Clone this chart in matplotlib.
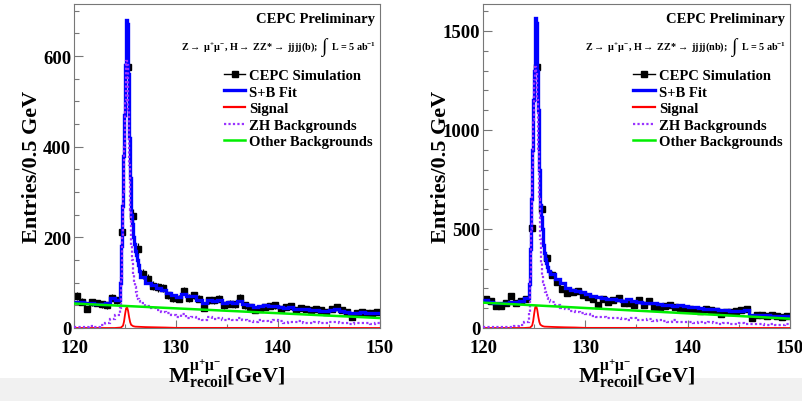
import numpy as np
import matplotlib
matplotlib.use("Agg")
import matplotlib.pyplot as plt
from matplotlib.lines import Line2D
from matplotlib.patches import Rectangle

plt.rcParams["font.family"] = ["Liberation Serif", "DejaVu Serif"]
plt.rcParams["font.weight"] = "bold"
plt.rcParams["axes.labelweight"] = "bold"
plt.rcParams["mathtext.fontset"] = "custom"
plt.rcParams["mathtext.rm"] = "Liberation Serif:bold"
plt.rcParams["mathtext.it"] = "Liberation Serif:bold"
plt.rcParams["mathtext.bf"] = "Liberation Serif:bold"
plt.rcParams["mathtext.default"] = "rm"

# ---- binning (0.5 GeV data bins, fit templates finer near the peak) ----
BIN_CENTERS = np.arange(120.25, 150.0, 0.5)
FIT_EDGES = np.concatenate([np.linspace(120, 124.5, 10)[:-1],
                            np.linspace(124.5, 126.5, 21)[:-1],
                            np.linspace(126.5, 150, 48)])
SIG_X = [120, 124.0, 124.6, 124.8, 124.9, 125.0, 125.1, 125.2, 125.3, 125.4,
         125.5, 125.6, 125.8, 126.0, 126.5, 127.0, 128.0, 129.0, 130.0, 150]
OTHER_X = [120, 150]

# ---- jjjj(b) channel ----
data_b = [71, 58, 43, 57, 55, 52, 50, 67, 61, 212,
          575, 247, 174, 120, 109, 93, 90, 88, 72, 66,
          65, 81, 66, 72, 65, 44, 61, 61, 65, 50,
          54, 52, 66, 50, 46, 39, 43, 46, 49, 50,
          43, 46, 48, 39, 44, 41, 39, 43, 39, 35,
          43, 46, 39, 35, 24, 32, 35, 32, 32, 35]
fit_b = ([58, 57, 55, 56, 54, 53, 56, 66, 62]
         + [100, 180, 270, 380, 470, 580, 680, 670, 560, 420,
            330, 250, 230, 200, 185, 170, 160, 150, 140, 125]
         + [112, 100, 95, 88, 84, 78, 72, 68, 74, 70,
            70, 62, 56, 62, 60, 62, 56, 58, 55, 60,
            54, 50, 46, 48, 50, 49, 48, 46, 45, 46,
            42, 43, 41, 40, 40, 38, 38, 40, 42, 38,
            36, 32, 34, 35, 33, 32, 34])
zh_b = ([2, 3, 2, 4, 3, 6, 12, 20, 28]
        + [45, 110, 200, 300, 400, 500, 590, 580, 480, 360,
           260, 180, 150, 120, 100, 90, 80, 70, 65, 60]
        + [55, 48, 45, 40, 35, 32, 28, 25, 30, 22,
           25, 20, 18, 24, 20, 22, 18, 20, 17, 22,
           18, 15, 14, 18, 16, 14, 17, 15, 12, 14,
           13, 15, 12, 11, 14, 12, 10, 13, 14, 11,
           12, 9, 10, 12, 10, 9, 11])
sig_b = [0, 0, 1, 5, 14, 30, 43, 46, 38, 24, 13, 7, 4, 3, 2.5, 2, 1.5, 1, 0.3, 0]
other_b = [54, 22]

# ---- jjjj(nb) channel ----
data_nb = [148, 135, 111, 111, 128, 162, 128, 136, 148, 505,
           1318, 603, 354, 269, 232, 195, 178, 182, 185, 165,
           157, 148, 118, 148, 131, 140, 152, 128, 128, 118,
           140, 118, 135, 106, 106, 111, 115, 106, 101, 98,
           98, 89, 84, 98, 89, 84, 72, 81, 81, 84,
           89, 98, 51, 64, 64, 61, 64, 61, 56, 61]
fit_nb = ([140, 132, 128, 126, 128, 130, 132, 138, 150]
          + [220, 400, 650, 900, 1150, 1300, 1566, 1540, 1300, 1100,
             800, 620, 560, 500, 420, 380, 350, 330, 310, 290]
          + [272, 245, 225, 200, 190, 185, 180, 170, 162, 158,
             150, 145, 148, 140, 138, 145, 135, 130, 128, 125,
             128, 122, 118, 115, 112, 115, 110, 106, 104, 100,
             98, 96, 94, 92, 90, 88, 86, 88, 90,
             68, 68, 66, 64, 62, 62, 60, 60])
zh_nb = ([5, 4, 5, 6, 5, 7, 10, 15, 30]
         + [80, 250, 500, 800, 1050, 1250, 1320, 1300, 1150, 900,
            650, 450, 330, 270, 230, 200, 180, 165, 150, 140]
         + [130, 115, 100, 95, 85, 80, 75, 70, 62, 58,
            55, 50, 48, 52, 45, 42, 48, 40, 38, 44,
            36, 40, 35, 32, 38, 30, 28, 32, 26, 30,
            25, 28, 24, 22, 26, 22, 20, 24, 18, 22,
            20, 18, 16, 20, 17, 15, 18])
sig_nb = [0, 0, 2, 12, 34, 72, 104, 111, 92, 58, 31, 17, 10, 7, 6, 5, 3.5, 2.5, 0.7, 0]
other_nb = [128, 47]

LEGEND_LABELS = ["CEPC Simulation", "S+B Fit", "Signal", "ZH Backgrounds", "Other Backgrounds"]
FIT_COLOR = "#0000ff"
SIG_COLOR = "#ff0000"
ZH_COLOR = "#9933ff"
OTHER_COLOR = "#00ee00"
FRAME_COLOR = "#777777"


def draw_panel(ax, data, fit, zh, sig, other, ymax, major, minor, channel):
    data = np.asarray(data, dtype=float)
    ax.errorbar(BIN_CENTERS, data, yerr=np.sqrt(data), fmt="s", ms=4.2,
                color="black", ecolor="black", elinewidth=0.9, capsize=0, zorder=2)
    ax.stairs(fit, FIT_EDGES, baseline=None, color=FIT_COLOR, lw=2.4, zorder=3)
    ax.plot(SIG_X, sig, color=SIG_COLOR, lw=1.3, zorder=4)
    ax.stairs(zh, FIT_EDGES, baseline=None, color=ZH_COLOR, lw=1.6,
              linestyle=(0, (1, 1)), zorder=5)
    ax.plot(OTHER_X, other, color=OTHER_COLOR, lw=1.8, zorder=6)

    ax.set_xlim(120, 150)
    ax.set_ylim(0, ymax)
    ax.set_xticks([120, 130, 140, 150])
    ax.set_xticks(np.arange(120, 151, 5), minor=True)
    ax.set_yticks(np.arange(0, ymax, major))
    ax.set_yticks(np.arange(0, ymax, minor), minor=True)
    ax.tick_params(axis="both", which="both", direction="in", colors=FRAME_COLOR,
                   labelcolor="black", labelsize=13.5, width=0.8)
    ax.tick_params(axis="x", which="major", length=5.5, pad=8)
    ax.tick_params(axis="x", which="minor", length=3)
    ax.tick_params(axis="y", which="major", length=6.5, pad=2)
    ax.tick_params(axis="y", which="minor", length=3.6)
    for s in ax.spines.values():
        s.set_color(FRAME_COLOR)
        s.set_linewidth(0.8)

    ax.set_xlabel(r"$\mathrm{M}^{\mu^{+}\mu^{-}}_{\mathrm{recoil}}$[GeV]", fontsize=16,
                  fontweight="bold", labelpad=1)
    ax.set_ylabel("Entries/0.5 GeV", fontsize=16, fontweight="bold")
    ax.yaxis.set_label_coords(-0.105, 0.5)

    ax.text(0.985, 0.955, "CEPC Preliminary", transform=ax.transAxes,
            ha="right", va="center", fontsize=10.5)
    ax.text(0.797, 0.87, r"Z$\rightarrow$ $\mu^{+}\mu^{-}$, H$\rightarrow$ ZZ*$\rightarrow$ jjjj(%s);" % channel,
            transform=ax.transAxes, ha="right", va="center", fontsize=7.3)
    ax.text(0.816, 0.87, "\u222b", transform=ax.transAxes, ha="center", va="center",
            fontsize=14, fontweight="normal")
    ax.text(0.840, 0.87, r"L = 5 ab$^{-1}$", transform=ax.transAxes,
            ha="left", va="center", fontsize=7.3)

    handles = [
        (Line2D([], [], color="black", lw=1.0),
         Line2D([], [], color="black", marker="s", ms=4.2, linestyle="none")),
        Line2D([], [], color=FIT_COLOR, lw=2.4),
        Line2D([], [], color=SIG_COLOR, lw=1.6),
        Line2D([], [], color=ZH_COLOR, lw=1.6, linestyle=(0, (1, 1))),
        Line2D([], [], color=OTHER_COLOR, lw=1.8),
    ]
    ax.legend(handles, LEGEND_LABELS, loc="upper left", bbox_to_anchor=(0.49, 0.80),
              frameon=False, fontsize=10.5, handlelength=1.45, handletextpad=0.3,
              labelspacing=0.23, borderaxespad=0, borderpad=0)


fig = plt.figure(figsize=(8.03, 4.02), dpi=100)
fig.patches.append(Rectangle((0, 0), 1, 0.058, transform=fig.transFigure,
                             facecolor="#f1f1f1", edgecolor="none", zorder=-1))
ax1 = fig.add_axes([0.0922, 0.1816, 0.3810, 0.806])
ax2 = fig.add_axes([0.6015, 0.1816, 0.3823, 0.806])
draw_panel(ax1, data_b, fit_b, zh_b, sig_b, other_b, 715, 200, 50, "b")
draw_panel(ax2, data_nb, fit_nb, zh_nb, sig_nb, other_nb, 1636, 500, 100, "nb")

fig.savefig("out.png", dpi=100)
